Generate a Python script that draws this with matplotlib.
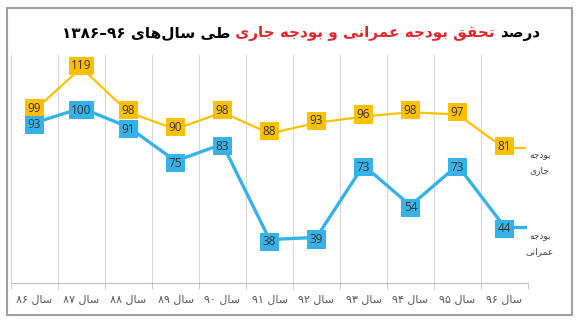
import matplotlib
matplotlib.use("Agg")
import matplotlib.pyplot as plt
from matplotlib.patches import Rectangle
from matplotlib.ticker import FixedLocator

# --- data ---
years_fa = ['۸۶', '۸۷', '۸۸', '۸۹', '۹۰', '۹۱', '۹۲', '۹۳', '۹۴', '۹۵', '۹۶']
current_budget = [99, 119, 98, 90, 98, 88, 93, 96, 98, 97, 81]      # بودجه جاری
dev_budget = [93, 100, 91, 75, 83, 38, 39, 73, 54, 73, 44]          # بودجه عمرانی

yellow = '#FFC000'
blue = '#35B3E8'

# crude arabic shaping (matplotlib has no bidi/shaping)
FORMS = {
    'ا': ('\uFE8D', '\uFE8E', None, None),
    'ب': ('\uFE8F', '\uFE90', '\uFE91', '\uFE92'),
    'ت': ('\uFE95', '\uFE96', '\uFE97', '\uFE98'),
    'ج': ('\uFE9D', '\uFE9E', '\uFE9F', '\uFEA0'),
    'ح': ('\uFEA1', '\uFEA2', '\uFEA3', '\uFEA4'),
    'د': ('\uFEA9', '\uFEAA', None, None),
    'ر': ('\uFEAD', '\uFEAE', None, None),
    'س': ('\uFEB1', '\uFEB2', '\uFEB3', '\uFEB4'),
    'ص': ('\uFEB9', '\uFEBA', '\uFEBB', '\uFEBC'),
    'ط': ('\uFEC1', '\uFEC2', '\uFEC3', '\uFEC4'),
    'ع': ('\uFEC9', '\uFECA', '\uFECB', '\uFECC'),
    'ق': ('\uFED5', '\uFED6', '\uFED7', '\uFED8'),
    'ل': ('\uFEDD', '\uFEDE', '\uFEDF', '\uFEE0'),
    'م': ('\uFEE1', '\uFEE2', '\uFEE3', '\uFEE4'),
    'ن': ('\uFEE5', '\uFEE6', '\uFEE7', '\uFEE8'),
    'ه': ('\uFEE9', '\uFEEA', '\uFEEB', '\uFEEC'),
    'و': ('\uFEED', '\uFEEE', None, None),
    'ی': ('\uFEEF', '\uFEF0', '\uFEF3', '\uFEF4'),
}


def shape(s):
    out = []
    for i, ch in enumerate(s):
        if ch not in FORMS:
            out.append(ch)
            continue
        prev = s[i - 1] if i > 0 else ''
        nxt = s[i + 1] if i + 1 < len(s) else ''
        jp = prev in FORMS and FORMS[prev][2] is not None
        jn = FORMS[ch][2] is not None and nxt in FORMS
        iso, fin, ini, med = FORMS[ch]
        if jp and jn:
            out.append(med)
        elif jp:
            out.append(fin)
        elif jn:
            out.append(ini)
        else:
            out.append(iso)
    return ''.join(out).replace('\u200c', '')[::-1]


W, H = 587, 324
fig = plt.figure(figsize=(W / 100, H / 100), dpi=100)
ax = fig.add_axes([11 / W, 41 / H, 517 / W, 228 / H])

x = list(range(len(years_fa)))
ax.plot(x, current_budget, color=yellow, lw=1.6, zorder=3)
ax.plot(x, dev_budget, color=blue, lw=2.4, zorder=3)
# leader lines towards series names
ax.plot([x[-1], x[-1] + 0.43], [current_budget[-1]] * 2, color=yellow, lw=1.6, zorder=3)
ax.plot([x[-1], x[-1] + 0.43], [dev_budget[-1]] * 2, color=blue, lw=2.4, zorder=3)

for vals, col, dy in ((current_budget, yellow, 1.5), (dev_budget, blue, -1.5)):
    for i, v in zip(x, vals):
        ax.annotate(str(v), (i, v), xytext=(0, dy), textcoords='offset points',
                    ha='center', va='center', fontsize=8.5,
                    family='Open Sans', color='#333333', zorder=5,
                    bbox=dict(boxstyle='square,pad=0.22', fc=col, ec='none'))

ax.text(x[-1] + 0.75, current_budget[-1] - 1, shape('بودجه') + '\n' + shape('جاری'),
        ha='center', va='top', fontsize=6.5, color='#404040', linespacing=2.0,
        clip_on=False)
ax.text(x[-1] + 0.75, dev_budget[-1] - 2, shape('بودجه') + '\n' + shape('عمرانی'),
        ha='center', va='top', fontsize=6.5, color='#404040', linespacing=2.0,
        clip_on=False)

ax.set_xlim(-0.5, 10.5)
ax.set_ylim(17.5, 125)
ax.set_xticks(x)
ax.set_xticklabels([d + ' ' + shape('سال') for d in years_fa], fontsize=8, color='#595959')
ax.xaxis.set_minor_locator(FixedLocator([i - 0.5 for i in range(len(x) + 1)]))
ax.tick_params(axis='x', which='major', length=0, pad=8)
ax.tick_params(axis='x', which='minor', length=4, color='#bfbfbf', direction='out')
ax.set_yticks([])
ax.grid(axis='x', which='minor', color='#d9d9d9', lw=0.8)
for s in ('left', 'right', 'top'):
    ax.spines[s].set_visible(False)
ax.spines['bottom'].set_color('#bfbfbf')

# title in three colours, right to left
renderer = fig.canvas.get_renderer()
parts = [(shape('درصد'), 'black'),
         (' ' + shape('تحقق بودجه عمرانی و بودجه جاری') + ' ', '#E3262D'),
         ('۱۳۸۶–۹۶ ' + shape('طی سال‌های'), 'black')]
xr = 540 / W
for txt, col in parts:
    t = fig.text(xr, 1 - 37 / H, txt, ha='right', va='baseline', color=col,
                 fontsize=11, fontweight='bold')
    bb = t.get_window_extent(renderer)
    xr = fig.transFigure.inverted().transform((bb.x0, 0))[0]

fig.patches.append(Rectangle((7 / W, 1 - 315 / H), 565 / W, 307 / H, transform=fig.transFigure,
                             fill=False, ec='#a0a0a0', lw=1.5))

fig.savefig('out.png', dpi=100)
